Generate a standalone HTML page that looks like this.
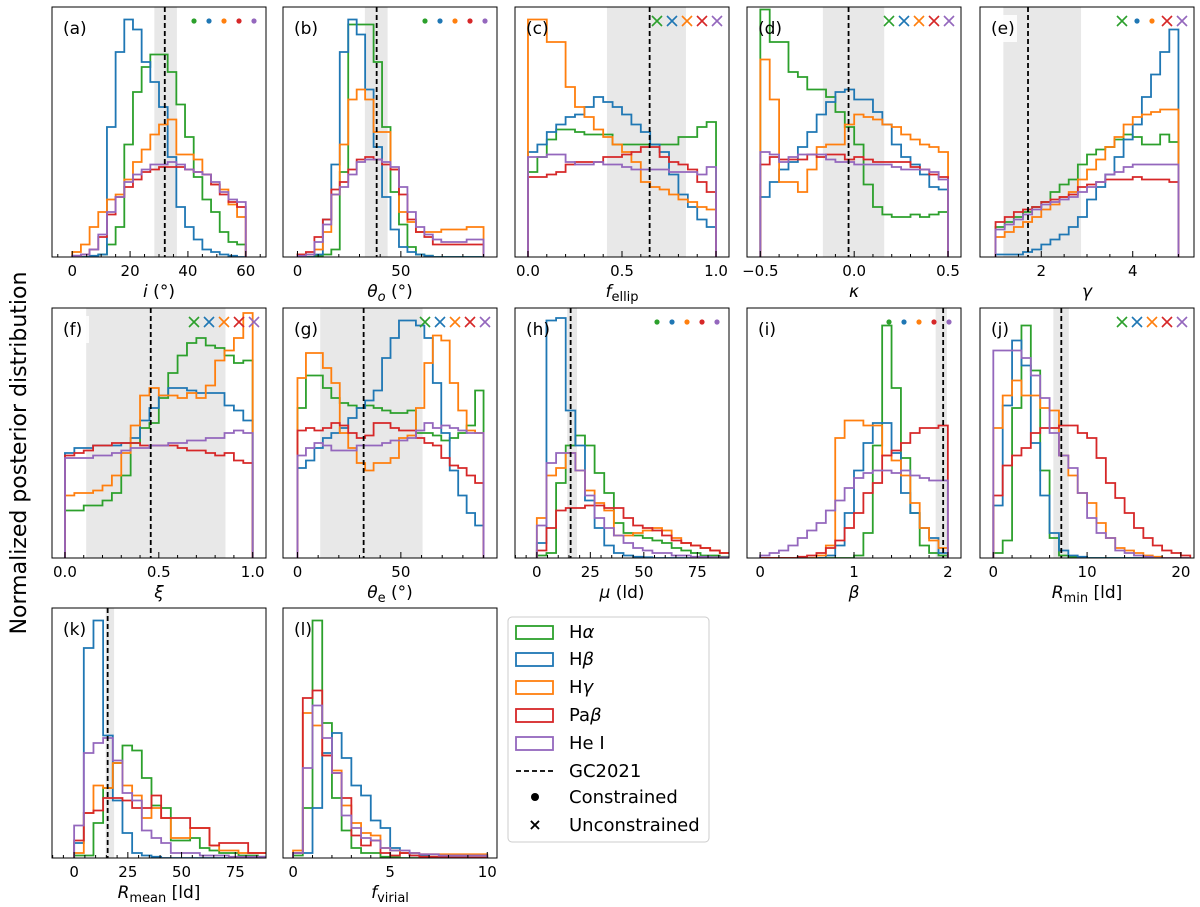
<!DOCTYPE html>
<html><head><meta charset="utf-8"><style>
html,body{margin:0;padding:0;background:#fff;}
svg{display:block;font-family:"DejaVu Sans","Liberation Sans",sans-serif;}
</style></head><body>
<svg id="fig" width="1200" height="907" viewBox="0 0 1200 907" xmlns="http://www.w3.org/2000/svg">
<text x="0" y="0" transform="translate(26,453) rotate(-90)" text-anchor="middle" font-size="22" fill="#000">Normalized posterior distribution</text>
<g>
<rect x="508" y="617" width="201" height="225" rx="4" fill="#fff" stroke="#ccc" stroke-width="1"/>
<rect x="516" y="626" width="37" height="13" fill="none" stroke="#2ca02c" stroke-width="1.8"/>
<text x="569" y="638" font-size="18">H<tspan font-style="italic">α</tspan></text>
<rect x="516" y="653" width="37" height="13" fill="none" stroke="#1f77b4" stroke-width="1.8"/>
<text x="569" y="665" font-size="18">H<tspan font-style="italic">β</tspan></text>
<rect x="516" y="681" width="37" height="13" fill="none" stroke="#ff7f0e" stroke-width="1.8"/>
<text x="569" y="693" font-size="18">H<tspan font-style="italic">γ</tspan></text>
<rect x="516" y="709" width="37" height="13" fill="none" stroke="#d62728" stroke-width="1.8"/>
<text x="569" y="721" font-size="18">Pa<tspan font-style="italic">β</tspan></text>
<rect x="516" y="737" width="37" height="13" fill="none" stroke="#9467bd" stroke-width="1.8"/>
<text x="569" y="749" font-size="18">He I</text>
<line x1="516" y1="771" x2="553" y2="771" stroke="#000" stroke-width="1.8" stroke-dasharray="5,3"/>
<text x="569" y="777" font-size="18">GC2021</text>
<circle cx="535" cy="797" r="4" fill="#000"/>
<text x="569" y="803" font-size="18">Constrained</text>
<text x="535" y="830" font-size="16" text-anchor="middle" font-weight="bold">×</text>
<text x="569" y="831" font-size="18">Unconstrained</text>
</g>
</svg>
<script>
// ---- data (normalized heights, 0-100 of panel height) ----
const a_Ha=[0,0,0,1,5,12,45,66,76,81,81,74,61,48,32,23,18,10,6,5];
const a_Hb=[0,0,0.5,1,52,82,95,91,78,70,60,40,20,12,7,3,2,1,0.5,0];
const a_Hg=[2,5,12,18,23,25,31,38,43,49,53,55,41,41,39,33,29,27,21,16];
const a_Pb=[0.5,1,3,8,17,24,28,31,34,35,36,36,36,35,34,33,29,25,22,20];
const a_He=[0.5,1,3,9,18,24,30,33,35,37,37,38,37,35,34,33,30,26,23,22];

const b_Ha=[0,0,0.5,1,3,34,93,93,93,78,52,26,13,4,1,0.5,0,0,0,0,0,0];
const b_Hb=[0,0,1,15,37,82,95,89,67,44,24,11,4,2,1,0.5,0,0,0,0,0,0];
const b_Hg=[1,1,3,10,25,45,63,67,63,50,50,35,18,14,10,10,10,11,11,11,12,12];
const b_Pb=[1,2,8,15,27,30,35,39,40,39,37,35,25,15,10,8,5,5,5,5,5,5];
const b_He=[0.5,1,6,13,25,28,33,38,39,39,38,36,28,18,12,9,7,6,6,6,7,7];

const c_Ha=[34,40,47,51,51,50,49,49,49,45,45,45,45,45,45,45,48,48,52,54];
const c_Hb=[42,45,50,53,56,57,60,64,62,60,57,53,50,45,42,33,25,20,15,12];
const c_Hg=[95,95,86,86,68,60,56,51,48,45,42,38,30,28,27,25,23,22,20,19];
const c_Pb=[32,32,33,34,37,38,38,38,40,40,41,42,44,44,40,38,37,35,30,26];
const c_He=[40,40,41,41,38,37,37,38,37,37,36,35,35,35,35,34,34,34,33,36];

const d_Ha=[99,86,86,74,72,67,67,64,58,52,45,29,20,17,16,16,17,16,17,18];
const d_Hb=[24,30,35,38,44,50,57,62,66,67,63,63,58,53,45,40,37,33,28,27];
const d_Hg=[79,63,30,30,26,35,44,45,45,53,57,56,55,53,52,49,47,45,44,42];
const d_Pb=[37,40,39,39,39,41,40,41,41,39,40,39,38,38,38,38,36,35,33,32];
const d_He=[42,41,38,40,41,41,41,39,38,38,37,37,37,37,36,35,35,35,34,31];

const e_Ha=[12,14,16,18,20,22,26,29,31,37,41,43,44,47,49,48,45,45,49,46];
const e_Hb=[1,1,1,2,3,5,7,9,12,16,23,28,33,40,47,53,64,73,82,91];
const e_Hg=[8,10,12,14,16,19,21,24,26,31,35,39,44,48,53,56,57,58,59,59];
const e_Pb=[14,16,18,19,20,22,23,24,25,28,29,30,31,31,31,32,31,31,31,30];
const e_He=[11,13,15,17,19,21,22,23,24,26,28,30,33,34,36,37,37,37,37,37];

const f_Ha=[19,19,21,21,23,26,33,46,52,54,64,74,81,86,88,85,84,81,78,79];
const f_Hb=[42,44,44,45,45,45,46,48,55,60,65,68,68,67,66,66,66,61,59,55];
const f_Hg=[25,26,26,27,29,33,42,53,65,68,65,65,64,66,64,69,79,83,88,98];
const f_Pb=[41,42,43,45,45,46,46,46,45,45,45,45,44,43,43,42,41,42,39,38];
const f_He=[40,40,40,41,41,42,43,44,44,45,45,46,46,47,47,48,48,50,51,50];

const g_Ha=[60,73,73,68,64,62,61,60,61,60,59,58,58,59,50,50,49,47,48,50,53,67];
const g_Hb=[36,39,44,48,50,52,56,60,63,67,80,88,95,95,93,88,70,50,35,25,18,13];
const g_Hg=[72,82,82,76,70,50,44,38,35,38,38,40,48,49,60,78,89,87,70,59,51,50];
const g_Pb=[51,52,51,52,54,53,50,48,49,54,54,52,51,51,48,46,45,40,37,36,33,30];
const g_He=[41,44,46,45,43,43,43,45,45,45,46,47,47,48,51,54,52,53,52,51,50,50];

const h_Ha=[1,2,30,45,49,45,34,26,14,10,9,8,7,6,4,3,2,1,1,0.5];
const h_Hb=[6,95,96,59,45,23,12,5,2,1,0.5,0.3,0,0,0,0,0,0,0,0];
const h_Hg=[16,33,36,42,35,27,22,19,9,9,10,11,12,11,8,6,5,4,3,2];
const h_Pb=[3,12,19,20,20,21,21,20,20,16,13,12,11,9,7,6,5,4,3,2];
const h_He=[13,38,42,42,35,25,16,12,9,6,4,3,2,2,1,1,0.5,0.5,0.3,0.3];

const i_Ha=[0,0,0,0,0,0,0,0,0,0,1,10,45,93,68,40,18,5,2,1];
const i_Hb=[0,0,0,0,0,0,0,1,5,18,35,46,54,54,42,26,18,12,8,2];
const i_Hg=[0,0,0,0,0,0,1,5,48,55,55,53,53,41,39,33,22,12,7,4];
const i_Pb=[0,0,0,0,0.5,1,2,4,7,12,18,26,30,41,43,46,50,52,52,53];
const i_He=[1,2,3,5,8,11,14,19,23,28,32,34,35,35,34,35,33,32,31,31];

const j_Ha=[2,7,60,93,75,35,8,1,0.5,0,0,0,0,0,0,0,0,0,0,0,0];
const j_Hb=[21,61,87,77,46,25,10,3,1,0.5,0,0,0,0,0,0,0,0,0,0,0];
const j_Hg=[52,65,71,65,65,60,59,41,33,26,22,14,8,4,3,2,1,0.5,0,0,0];
const j_Pb=[25,37,41,44,50,52,52,53,53,50,48,40,30,24,18,12,8,5,3,2,1];
const j_He=[83,83,83,80,73,64,50,41,36,26,16,10,8,3,2,1,0.5,0,0,0,0];

const k_Ha=[1,1,14,28,38,45,43,32,21,20,7,7,8,4,3,2,2,1,1,0.5];
const k_Hb=[6,84,95,49,23,10,2,1,0.5,0,0,0,0,0,0,0,0,0,0,0];
const k_Hg=[2,18,29,28,38,29,25,16,20,16,8,8,12,12,5,3,3,2,2,2];
const k_Pb=[7,18,19,24,24,23,20,20,25,16,16,16,12,12,5,6,6,6,2,2];
const k_He=[13,42,46,48,39,26,23,11,8,6,2,2,2,1,1,1,0.5,0.5,0.5,0.5];

const l_Ha=[1,20,95,54,24,11,4,2,2,0.5,0.3,0,0,0,0,0,0,0,0,0];
const l_Hb=[2,2,20,42,50,40,29,25,15,12,4,2,1,1,0.5,0.5,0.3,0.3,0.2,0.2];
const l_Hg=[3,58,53,41,35,21,14,10,9,4,3,2,2,1.5,1.5,1.5,1.5,1.5,1.5,1.5];
const l_Pb=[2,64,67,41,34,24,9,5,7,2,1,2,1,0.5,0.5,0.3,0.2,0.2,0.2,0.2];
const l_He=[2,36,61,48,34,17,12,8,7,4,3,3,2,1.5,1.5,1,1,1,1,1];

const COLORS=["#2ca02c","#1f77b4","#ff7f0e","#d62728","#9467bd"];
const SERIES=["halpha","hbeta","hgamma","pabeta","hei"];
const NS="http://www.w3.org/2000/svg";
const svg=document.getElementById('fig');
const COLX=[52,283,515,747,980], ROWY=[7,308,608], PW=214, PH=250;

const panels=[
 {id:'a',c:0,r:0,xl:[-7,67],bins:[0,60],ticks:[[0,'0'],[20,'20'],[40,'40'],[60,'60']],minor:5,shade:[28.4,36.2],dash:32,mk:'ooooo',data:[a_Ha,a_Hb,a_Hg,a_Pb,a_He],lab:'<tspan font-style="italic">i</tspan> (°)'},
 {id:'b',c:1,r:0,xl:[-7,96.5],bins:[0,90],ticks:[[0,'0'],[50,'50']],minor:10,shade:[32.6,43.6],dash:38.3,mk:'ooooo',data:[b_Ha,b_Hb,b_Hg,b_Pb,b_He],lab:'<tspan font-style="italic">θ</tspan><tspan font-style="italic" font-size="13" dy="4">o</tspan><tspan dy="-4"> (°)</tspan>'},
 {id:'c',c:2,r:0,xl:[-0.069,1.069],bins:[0,1],ticks:[[0,'0.0'],[0.5,'0.5'],[1,'1.0']],minor:0.1,shade:[0.42,0.84],dash:0.647,mk:'xxxxx',data:[c_Ha,c_Hb,c_Hg,c_Pb,c_He],lab:'<tspan font-style="italic">f</tspan><tspan font-size="13" dy="4">ellip</tspan>'},
 {id:'d',c:3,r:0,xl:[-0.571,0.569],bins:[-0.5,0.5],ticks:[[-0.5,'−0.5'],[0,'0.0'],[0.5,'0.5']],minor:0.1,shade:[-0.167,0.16],dash:-0.03,mk:'xxxxx',data:[d_Ha,d_Hb,d_Hg,d_Pb,d_He],lab:'<tspan font-style="italic">κ</tspan>'},
 {id:'e',c:4,r:0,xl:[0.66,5.34],bins:[1,5],ticks:[[2,'2'],[4,'4']],minor:0.5,shade:[1.17,2.87],dash:1.71,mk:'xooxx',box:true,data:[e_Ha,e_Hb,e_Hg,e_Pb,e_He],lab:'<tspan font-style="italic">γ</tspan>'},
 {id:'f',c:0,r:1,xl:[-0.069,1.071],bins:[0,1],ticks:[[0,'0.0'],[0.5,'0.5'],[1,'1.0']],minor:0.1,shade:[0.113,0.855],dash:0.457,mk:'xxxxx',box:true,data:[f_Ha,f_Hb,f_Hg,f_Pb,f_He],lab:'<tspan font-style="italic">ξ</tspan>'},
 {id:'g',c:1,r:1,xl:[-7,96.5],bins:[0,90],ticks:[[0,'0'],[50,'50']],minor:10,shade:[11,60.5],dash:32,mk:'xxxxx',box:true,data:[g_Ha,g_Hb,g_Hg,g_Pb,g_He],lab:'<tspan font-style="italic">θ</tspan><tspan font-size="13" dy="4">e</tspan><tspan dy="-4"> (°)</tspan>'},
 {id:'h',c:2,r:1,xl:[-10.2,89.8],bins:[0,90],ticks:[[0,'0'],[25,'25'],[50,'50'],[75,'75']],minor:5,shade:[14.2,18.8],dash:15.8,mk:'ooooo',data:[h_Ha,h_Hb,h_Hg,h_Pb,h_He],lab:'<tspan font-style="italic">μ</tspan> (ld)'},
 {id:'i',c:3,r:1,xl:[-0.14,2.14],bins:[0,2],ticks:[[0,'0'],[1,'1'],[2,'2']],minor:0.2,shade:[1.87,1.99],dash:1.95,mk:'ooooo',data:[i_Ha,i_Hb,i_Hg,i_Pb,i_He],lab:'<tspan font-style="italic">β</tspan>'},
 {id:'j',c:4,r:1,xl:[-1.42,21.4],bins:[0,21],ticks:[[0,'0'],[10,'10'],[20,'20']],minor:2,shade:[6.4,8.05],dash:7.25,mk:'xxxxx',data:[j_Ha,j_Hb,j_Hg,j_Pb,j_He],lab:'<tspan font-style="italic">R</tspan><tspan font-size="13" dy="4">min</tspan><tspan dy="-4"> [ld]</tspan>'},
 {id:'k',c:0,r:2,xl:[-10.3,89.3],bins:[0,90],ticks:[[0,'0'],[25,'25'],[50,'50'],[75,'75']],minor:5,shade:[14.7,18.6],dash:15.6,mk:'',data:[k_Ha,k_Hb,k_Hg,k_Pb,k_He],lab:'<tspan font-style="italic">R</tspan><tspan font-size="13" dy="4">mean</tspan><tspan dy="-4"> [ld]</tspan>'},
 {id:'l',c:1,r:2,xl:[-0.52,10.5],bins:[0,10],ticks:[[0,'0'],[5,'5'],[10,'10']],minor:1,shade:null,dash:null,mk:'',data:[l_Ha,l_Hb,l_Hg,l_Pb,l_He],lab:'<tspan font-style="italic">f</tspan><tspan font-size="13" dy="4">virial</tspan>'}
];

function mk(tag,attrs,parent){const e=document.createElementNS(NS,tag);for(const k in attrs)e.setAttribute(k,attrs[k]);(parent||svg).appendChild(e);return e;}

panels.forEach(p=>{
  const L=COLX[p.c], T=ROWY[p.r], B=T+PH, R=L+PW;
  const sx=v=>L+(v-p.xl[0])/(p.xl[1]-p.xl[0])*PW;
  const sy=v=>B-v/100*PH;
  const g=mk('g',{});
  
  
  const cp=mk('clipPath',{id:'clip'+p.id},g);
  mk('rect',{x:L,y:T,width:PW,height:PH},cp);
  if(p.shade){
    const s=mk('rect',{x:sx(p.shade[0]),y:T,width:sx(p.shade[1])-sx(p.shade[0]),height:PH,fill:'#e8e8e8','clip-path':'url(#clip'+p.id+')'},g);
    
    
  }
  const n0=p.data[0].length, w=(p.bins[1]-p.bins[0])/n0;
  p.data.forEach((arr,si)=>{
    const n=arr.length, bw=(p.bins[1]-p.bins[0])/n;
    let d='M'+sx(p.bins[0])+','+B;
    arr.forEach((v,i)=>{const x0=sx(p.bins[0]+i*bw),x1=sx(p.bins[0]+(i+1)*bw);d+=' L'+x0+','+sy(v)+' L'+x1+','+sy(v);});
    d+=' L'+sx(p.bins[1])+','+B;
    const path=mk('path',{d:d,fill:'none',stroke:COLORS[si],'stroke-width':1.8,'stroke-linejoin':'miter','clip-path':'url(#clip'+p.id+')'},g);
    
    
  });
  if(p.dash!==null){
    const dl=mk('line',{x1:sx(p.dash),x2:sx(p.dash),y1:T,y2:B,stroke:'#000','stroke-width':1.8,'stroke-dasharray':'5,3'},g);
    
    
  }
  // ticks
  const start=Math.ceil(p.xl[0]/p.minor-1e-9);
  for(let k=start;k*p.minor<=p.xl[1]+1e-9;k++){const v=k*p.minor;const x=sx(v);
    const major=p.ticks.some(t=>Math.abs(t[0]-v)<1e-9);
    mk('line',{x1:x,x2:x,y1:B,y2:B-(major?6:3),stroke:'#000','stroke-width':1},g);}
  p.ticks.forEach(t=>{
    const tl=mk('text',{x:sx(t[0]),y:B+19,'font-size':15,'text-anchor':'middle'},g);
    tl.textContent=t[1];
    
    
  });
  const xl=mk('text',{x:(L+R)/2,y:B+40,'font-size':17,'text-anchor':'middle'},g);
  xl.innerHTML=p.lab;
  
  
  // frame
  mk('rect',{x:L,y:T,width:PW,height:PH,fill:'none',stroke:'#000','stroke-width':1},g);
  if(p.box){mk('rect',{x:L+5,y:T+8,width:32,height:27,fill:'#fff','fill-opacity':0.85},g);}
  const pl=mk('text',{x:L+11,y:T+27,'font-size':17},g);
  pl.textContent='('+p.id+')';
  
  
  // markers
  for(let m=0;m<p.mk.length;m++){
    const cx=R-12-(4-m)*15, cy=T+14;
    if(p.mk[m]==='o'){
      const c=mk('circle',{cx:cx,cy:cy,r:2.6,fill:COLORS[m]},g);
      
      
    } else {
      const x=mk('path',{d:`M${cx-5},${cy-5}L${cx+5},${cy+5}M${cx-5},${cy+5}L${cx+5},${cy-5}`,stroke:COLORS[m],'stroke-width':1.6,fill:'none'},g);
      
      
    }
  }
});
</script>
</body></html>
